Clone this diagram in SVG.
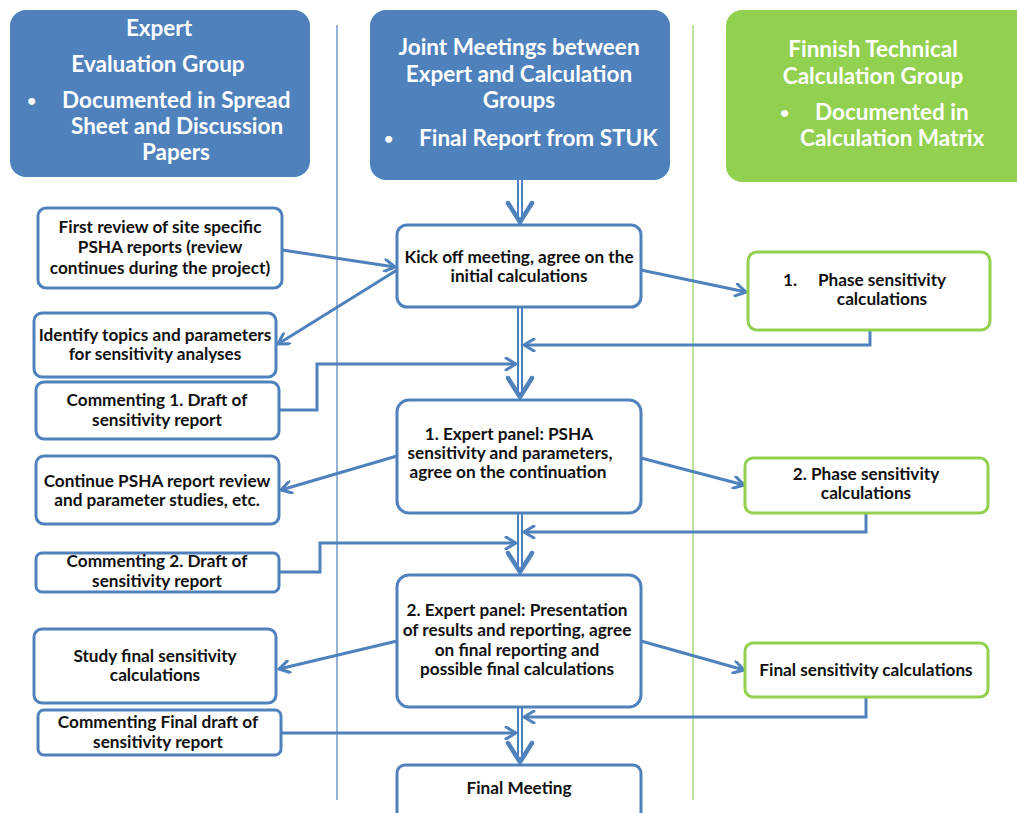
<svg xmlns="http://www.w3.org/2000/svg" width="1017" height="813" viewBox="0 0 1017 813">
<style>
.hdrB{fill:#4F81BD}
.hdrG{fill:#92D050}
.ht{font-family:Lato,"Liberation Sans",sans-serif;font-weight:bold;font-size:22.5px;fill:#fff}
.bu{font-family:Lato,"Liberation Sans",sans-serif;font-weight:bold;font-size:16px;fill:#fff}
.nb{fill:#fff;stroke:#4F81BD;stroke-width:3}
.ng{fill:#fff;stroke:#92D050;stroke-width:3}
.t{font-family:Lato,"Liberation Sans",sans-serif;font-weight:bold;font-size:17.2px;fill:#111;text-anchor:middle}
.c{fill:none;stroke:#4F81BD;stroke-width:3}
.big{fill:none;stroke:#4F81BD;stroke-width:4.5;stroke-linecap:round;stroke-linejoin:round}
</style>
<defs>
<marker id="a" viewBox="0 0 14 14" refX="12" refY="7" markerWidth="14" markerHeight="14" markerUnits="userSpaceOnUse" orient="auto">
<path d="M2,1 L12,7 L2,13" fill="none" stroke="#4F81BD" stroke-width="3" stroke-linecap="round" stroke-linejoin="round"/>
</marker>
</defs>
<rect width="1017" height="813" fill="#fff"/>
<g id="separators">
<line x1="337" y1="25" x2="337" y2="800" stroke="#4F81BD" stroke-width="1.2"/>
<line x1="693" y1="25" x2="693" y2="800" stroke="#92D050" stroke-width="1.2"/>
</g>
<g id="hdr-expert">
<rect class="hdrB" x="10" y="10" width="300" height="167" rx="16"/>
<text class="ht" x="159" y="36" text-anchor="middle">Expert</text>
<text class="ht" x="158" y="72" text-anchor="middle">Evaluation  Group</text>
<text class="bu" x="27" y="106">•</text>
<text class="ht" x="62" y="108">Documented in Spread</text>
<text class="ht" x="71" y="134">Sheet and Discussion</text>
<text class="ht" x="176" y="160" text-anchor="middle">Papers</text>
</g>
<g id="hdr-joint">
<rect class="hdrB" x="370" y="10" width="300" height="170" rx="16"/>
<text class="ht" x="519" y="55" text-anchor="middle">Joint Meetings between</text>
<text class="ht" x="519" y="82" text-anchor="middle">Expert and Calculation</text>
<text class="ht" x="519" y="108" text-anchor="middle">Groups</text>
<text class="bu" x="384" y="144">•</text>
<text class="ht" x="419" y="146">Final Report from STUK</text>
</g>
<g id="hdr-finnish">
<rect class="hdrG" x="726" y="10" width="310" height="172" rx="16"/>
<text class="ht" x="873" y="57" text-anchor="middle">Finnish Technical</text>
<text class="ht" x="873" y="84" text-anchor="middle">Calculation  Group</text>
<text class="bu" x="780" y="118">•</text>
<text class="ht" x="815" y="120">Documented in</text>
<text class="ht" x="800" y="146">Calculation  Matrix</text>
</g>
<g id="connectors">
<g id="mainflow">
<line x1="520" y1="180" x2="520" y2="220" stroke="#4F81BD" stroke-width="6"/>
<line x1="520" y1="180" x2="520" y2="220" stroke="#fff" stroke-width="2"/>
<path class="big" d="M508,203 L520,222 L532,203"/>
<line x1="520" y1="307" x2="520" y2="396" stroke="#4F81BD" stroke-width="6"/>
<line x1="520" y1="307" x2="520" y2="396" stroke="#fff" stroke-width="2"/>
<path class="big" d="M508,378 L520,397 L532,378"/>
<line x1="520" y1="513" x2="520" y2="571" stroke="#4F81BD" stroke-width="6"/>
<line x1="520" y1="513" x2="520" y2="571" stroke="#fff" stroke-width="2"/>
<path class="big" d="M508,553 L520,572 L532,553"/>
<line x1="520" y1="707" x2="520" y2="761" stroke="#4F81BD" stroke-width="6"/>
<line x1="520" y1="707" x2="520" y2="761" stroke="#fff" stroke-width="2"/>
<path class="big" d="M508,743 L520,762 L532,743"/>
</g>
<path class="c" d="M282,250 L395,267" marker-end="url(#a)"/>
<path class="c" d="M397,270 L278,344" marker-end="url(#a)"/>
<path class="c" d="M641,270 L746,292" marker-end="url(#a)"/>
<path class="c" d="M870,330 L870,345 L524,345" marker-end="url(#a)"/>
<path class="c" d="M279,410 L317,410 L317,364 L516,364" marker-end="url(#a)"/>
<path class="c" d="M397,456 L281,490" marker-end="url(#a)"/>
<path class="c" d="M641,458 L744,485" marker-end="url(#a)"/>
<path class="c" d="M866,513 L866,532 L524,532" marker-end="url(#a)"/>
<path class="c" d="M279,572 L320,572 L320,543 L516,543" marker-end="url(#a)"/>
<path class="c" d="M397,641 L279,669" marker-end="url(#a)"/>
<path class="c" d="M641,641 L744,670" marker-end="url(#a)"/>
<path class="c" d="M866,697 L866,717 L524,717" marker-end="url(#a)"/>
<path class="c" d="M281,733 L516,733" marker-end="url(#a)"/>
</g>
<g id="n-first-review">
<rect class="nb" x="38" y="208" width="244" height="80" rx="8"/>
<text class="t" x="160" y="233">First review of site specific</text>
<text class="t" x="160" y="253">PSHA reports (review</text>
<text class="t" x="160" y="274">continues during the project)</text>
</g>
<g id="n-identify">
<rect class="nb" x="34" y="313" width="242" height="64" rx="8"/>
<text class="t" x="155" y="341">Identify topics and parameters</text>
<text class="t" x="155" y="360">for sensitivity analyses</text>
</g>
<g id="n-comment1">
<rect class="nb" x="36" y="382" width="243" height="57" rx="8"/>
<text class="t" x="157" y="406">Commenting 1. Draft of</text>
<text class="t" x="157" y="426">sensitivity report</text>
</g>
<g id="n-continue">
<rect class="nb" x="36" y="456" width="243" height="68" rx="8"/>
<text class="t" x="157" y="487">Continue PSHA report review</text>
<text class="t" x="157" y="506">and parameter studies, etc.</text>
</g>
<g id="n-comment2">
<rect class="nb" x="36" y="553" width="243" height="39" rx="6"/>
<text class="t" x="157" y="567">Commenting 2. Draft of</text>
<text class="t" x="157" y="587">sensitivity report</text>
</g>
<g id="n-study">
<rect class="nb" x="34" y="629" width="242" height="74" rx="8"/>
<text class="t" x="155" y="662">Study final sensitivity</text>
<text class="t" x="155" y="681">calculations</text>
</g>
<g id="n-comment-final">
<rect class="nb" x="38" y="710" width="243" height="45" rx="6"/>
<text class="t" x="158" y="728">Commenting Final draft of</text>
<text class="t" x="158" y="748">sensitivity report</text>
</g>
<g id="n-kickoff">
<rect class="nb" x="397" y="225" width="244" height="82" rx="10"/>
<text class="t" x="519" y="263">Kick off meeting, agree on the</text>
<text class="t" x="519" y="282">initial calculations</text>
</g>
<g id="n-panel1">
<rect class="nb" x="397" y="400" width="244" height="113" rx="12"/>
<text class="t" x="509" y="440">1. Expert panel: PSHA</text>
<text class="t" x="510" y="459">sensitivity and parameters,</text>
<text class="t" x="508" y="478">agree on the continuation</text>
</g>
<g id="n-panel2">
<rect class="nb" x="397" y="575" width="244" height="132" rx="12"/>
<text class="t" x="517" y="616">2. Expert panel: Presentation</text>
<text class="t" x="517" y="636">of results and reporting, agree</text>
<text class="t" x="517" y="656">on final reporting and</text>
<text class="t" x="517" y="675">possible final calculations</text>
</g>
<g id="n-final-meeting">
<rect class="nb" x="397" y="765" width="244" height="60" rx="8"/>
<text class="t" x="519" y="794">Final Meeting</text>
</g>
<g id="n-phase1">
<rect class="ng" x="748" y="252" width="242" height="78" rx="9"/>
<text class="t" x="790" y="286" text-anchor="start">1.</text>
<text class="t" x="882" y="286">Phase sensitivity</text>
<text class="t" x="882" y="305">calculations</text>
</g>
<g id="n-phase2">
<rect class="ng" x="745" y="458" width="243" height="55" rx="8"/>
<text class="t" x="866" y="480">2. Phase sensitivity</text>
<text class="t" x="866" y="499">calculations</text>
</g>
<g id="n-final-calc">
<rect class="ng" x="745" y="643" width="243" height="54" rx="8"/>
<text class="t" x="866" y="676">Final sensitivity calculations</text>
</g>
</svg>
